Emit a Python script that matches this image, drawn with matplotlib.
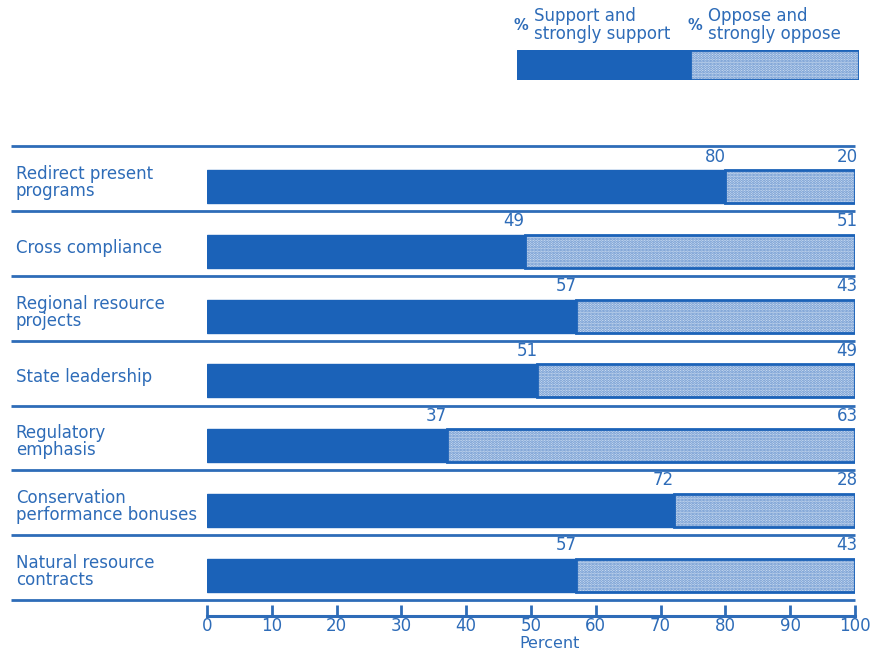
import matplotlib
matplotlib.use("Agg")
import matplotlib.pyplot as plt
from matplotlib.patches import Rectangle

categories = [
    "Redirect present\nprograms",
    "Cross compliance",
    "Regional resource\nprojects",
    "State leadership",
    "Regulatory\nemphasis",
    "Conservation\nperformance bonuses",
    "Natural resource\ncontracts",
]
support = [80, 49, 57, 51, 37, 72, 57]
oppose = [20, 51, 43, 49, 63, 28, 43]
xticks = [0, 10, 20, 30, 40, 50, 60, 70, 80, 90, 100]

DARK = "#1b62b8"
TXT = "#2e6cb8"
LIGHT_FACE = "#d3e1f2"
DOT = "#5d8ccc"
FS = 12

plt.rcParams["font.family"] = ["DejaVu Sans"]
plt.rcParams["hatch.linewidth"] = 1.4

W, H = 884, 651
fig = plt.figure(figsize=(W / 100, H / 100), dpi=100)
fig.patch.set_facecolor("white")

x0, x1 = 207, 855
ytop, ybot = 140, 616
ax = fig.add_axes([x0 / W, (H - ybot) / H, (x1 - x0) / W, (ybot - ytop) / H])
ax.set_xlim(0, 100)
ax.set_ylim(6.63, -0.72)
for s in ["top", "left", "right"]:
    ax.spines[s].set_visible(False)
ax.spines["bottom"].set_color(TXT)
ax.spines["bottom"].set_linewidth(2.2)
ax.set_yticks([])
ax.set_xticks(xticks)
ax.set_xticklabels([str(t) for t in xticks], color=TXT, fontsize=FS)
ax.tick_params(axis="x", direction="in", length=8, width=2, color=TXT, pad=0.5)
fig.text(550 / W, 0.5 / H, "Percent", color=TXT, fontsize=11.5, ha="center", va="bottom")

bh = 0.51
n = len(categories)
ys = list(range(n))
ax.barh(ys, support, height=bh, color=DARK, edgecolor=DARK, linewidth=1)
ax.barh(ys, oppose, left=support, height=bh, color=LIGHT_FACE, edgecolor=DOT,
        hatch="......", linewidth=0)
ax.barh(ys, oppose, left=support, height=bh, color="none", edgecolor=DARK, linewidth=2)

for i, (s, o) in enumerate(zip(support, oppose)):
    ax.text(s, i - bh / 2 - 0.07, str(s), ha="right", va="bottom", color=TXT, fontsize=FS)
    ax.text(100.4, i - bh / 2 - 0.07, str(o), ha="right", va="bottom", color=TXT, fontsize=FS)
    ax.text(-29.5, i - 0.06, categories[i], ha="left", va="center", color=TXT,
            fontsize=FS, linespacing=0.95, clip_on=False)

# separator lines
for k in range(n + 1):
    yy = k - 0.62
    ax.plot([-30.2, 100], [yy, yy], color=TXT, lw=2, clip_on=False, solid_capstyle="butt")

# legend
lax = fig.add_axes([517 / W, (H - 80) / H, (859 - 517) / W, 30 / H])
lax.set_xlim(0, 100)
lax.set_ylim(0, 1)
lax.axis("off")
split = 50.6
lax.add_patch(Rectangle((0, 0), split, 1, facecolor=DARK, edgecolor=DARK, lw=1))
lax.add_patch(Rectangle((split, 0), 100 - split, 1, facecolor=LIGHT_FACE, edgecolor=DOT,
                        hatch="......", lw=0))
lax.add_patch(Rectangle((split, 0), 100 - split, 1, facecolor="none", edgecolor=DARK, lw=2))
fig.text(514 / W, 1 - 25 / H, "%", color=TXT, fontsize=10.5, fontweight="bold",
         ha="left", va="center")
fig.text(534 / W, 1 - 25 / H, "Support and\nstrongly support", color=TXT, fontsize=FS,
         ha="left", va="center", linespacing=0.95)
fig.text(687 / W, 1 - 25 / H, "%", color=TXT, fontsize=10.5, fontweight="bold",
         ha="left", va="center")
fig.text(708 / W, 1 - 25 / H, "Oppose and\nstrongly oppose", color=TXT, fontsize=FS,
         ha="left", va="center", linespacing=0.95)

fig.savefig("out.png", dpi=100, facecolor="white")
